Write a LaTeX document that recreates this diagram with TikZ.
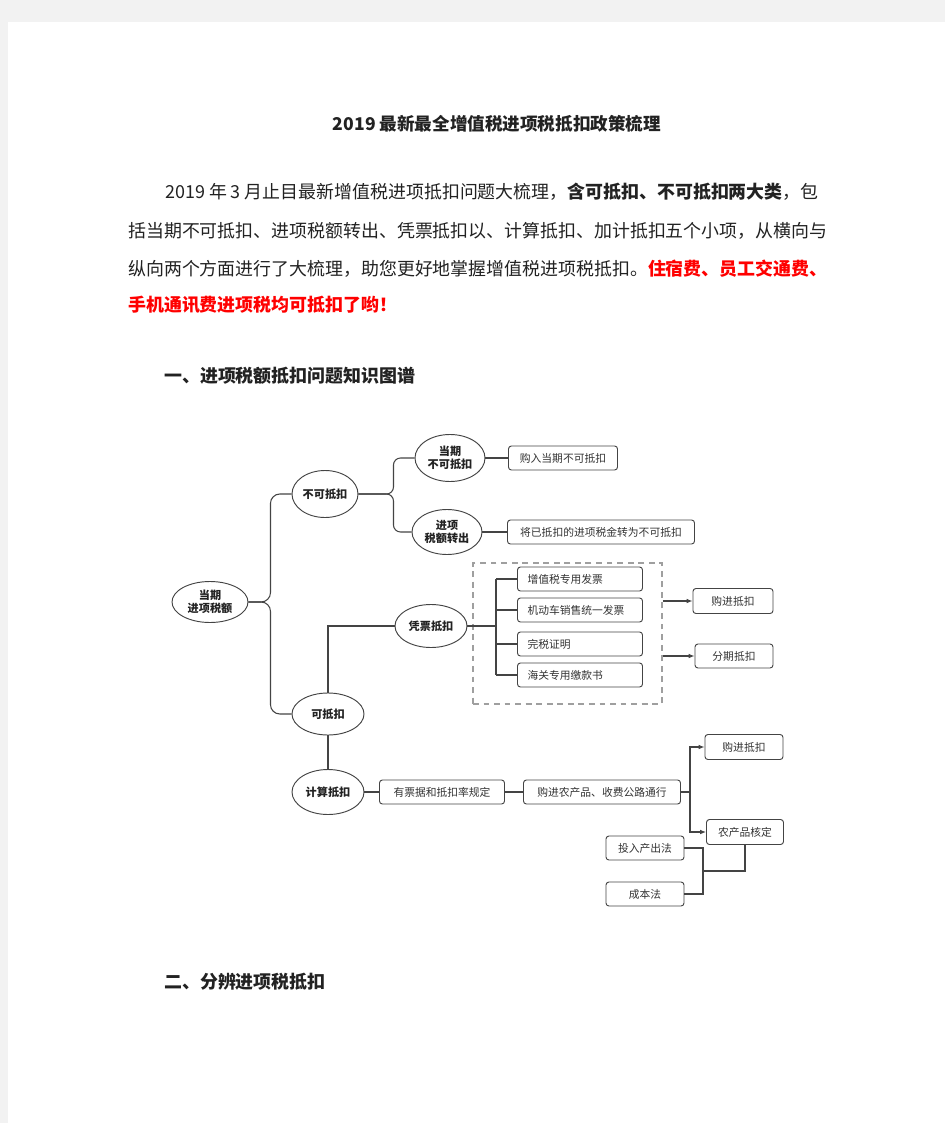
\documentclass[tikz,border=0pt]{standalone}
\usepackage{fontspec}
\setmainfont{Noto Sans CJK SC}
\usetikzlibrary{shapes.geometric,arrows.meta}
\definecolor{pagegray}{HTML}{F2F2F2}
\definecolor{ink}{HTML}{222222}
\definecolor{wire}{HTML}{444444}
\definecolor{hotred}{HTML}{FF0000}
\tikzset{
  bubble/.style={ellipse, draw=wire, line width=0.8pt, inner sep=0pt, align=center,
    font=\fontsize{9.5pt}{11pt}\selectfont\bfseries, text=ink},
  tag/.style={draw=wire, line width=0.8pt, rounded corners=2.5pt, inner sep=0pt,
    minimum height=0.72cm, font=\fontsize{9.2pt}{11pt}\selectfont, text=black!80},
  link/.style={draw=wire, line width=0.9pt},
  feed/.style={link, -{Latex[length=5pt,width=4pt]}},
  body/.style={anchor=west, inner sep=0pt, text=ink, font=\fontsize{15.3pt}{18pt}\selectfont},
  frame/.style={draw=gray!75, line width=1.4pt, dash pattern=on 5pt off 4pt}
}
\begin{document}
\begin{tikzpicture}[x=0.03cm, y=-0.03cm]
  \useasboundingbox (0,0) rectangle (945,1123);
  \fill [pagegray] (0,0) rectangle (945,1123);
  \fill [white] (8,22) rectangle (945,1123);

  \node [body, anchor=center, font=\fontsize{15pt}{18pt}\selectfont\bfseries] (title) at (497,124)
    {2019 最新最全增值税进项税抵扣政策梳理};
  \node [body] (line1) at (165,192)
    {2019 年 3 月止目最新增值税进项抵扣问题大梳理，{\bfseries 含可抵扣、不可抵扣两大类}，包};
  \node [body] (line2) at (128,231)
    {括当期不可抵扣、进项税额转出、凭票抵扣以、计算抵扣、加计抵扣五个小项，从横向与};
  \node [body] (line3) at (128,269)
    {纵向两个方面进行了大梳理，助您更好地掌握增值税进项税抵扣。{\bfseries\color{hotred}住宿费、员工交通费、}};
  \node [body, text=hotred, font=\fontsize{15.3pt}{18pt}\selectfont\bfseries] (line4) at (128,305)
    {手机通讯费进项税均可抵扣了哟！};
  \node [body, font=\fontsize{15.3pt}{18pt}\selectfont\bfseries] (head1) at (164,376)
    {一、进项税额抵扣问题知识图谱};
  \node [body, font=\fontsize{15.3pt}{18pt}\selectfont\bfseries] (head2) at (164,982)
    {二、分辨进项税抵扣};

  \node [bubble, minimum width=2.28cm, minimum height=1.23cm] (root) at (210,602) {当期\\进项税额};
  \node [bubble, minimum width=1.98cm, minimum height=1.41cm] (nk) at (325,494) {不可抵扣};
  \node [bubble, minimum width=2.1cm, minimum height=1.41cm] (dq) at (450,458) {当期\\不可抵扣};
  \node [bubble, minimum width=2.1cm, minimum height=1.35cm] (zc) at (447,532) {进项\\税额转出};
  \node [bubble, minimum width=2.16cm, minimum height=1.29cm] (pp) at (431,626) {凭票抵扣};
  \node [bubble, minimum width=2.16cm, minimum height=1.26cm] (kd) at (328,714) {可抵扣};
  \node [bubble, minimum width=2.16cm, minimum height=1.35cm] (js) at (328,792) {计算抵扣};

  \node [tag, minimum width=3.27cm] (b1) at (563,458) {购入当期不可抵扣};
  \node [tag, minimum width=5.61cm] (b2) at (601,532) {将已抵扣的进项税金转为不可抵扣};

  \node [frame, minimum width=5.67cm, minimum height=4.23cm] (box) at (567.5,633.5) {};
  \node [tag, minimum width=3.75cm, text width=3.15cm] (v1) at (580,579) {增值税专用发票};
  \node [tag, minimum width=3.75cm, text width=3.15cm] (v2) at (580,610) {机动车销售统一发票};
  \node [tag, minimum width=3.75cm, text width=3.15cm] (v3) at (580,644) {完税证明};
  \node [tag, minimum width=3.75cm, text width=3.15cm] (v4) at (580,675) {海关专用缴款书};
  \coordinate (spine) at (496,626);

  \node [tag, minimum width=2.4cm, minimum height=0.75cm] (g1) at (733,601) {购进抵扣};
  \node [tag, minimum width=2.34cm] (f1) at (734,656) {分期抵扣};

  \node [tag, minimum width=3.75cm] (r1) at (442,792) {有票据和抵扣率规定};
  \node [tag, minimum width=4.71cm] (r2) at (602,792) {购进农产品、收费公路通行};
  \coordinate (fork) at (690,792);
  \node [tag, minimum width=2.34cm, minimum height=0.75cm] (g2) at (744,747) {购进抵扣};
  \node [tag, minimum width=2.31cm, minimum height=0.75cm] (nh) at (745,832) {农产品核定};
  \node [tag, minimum width=2.34cm] (tr) at (645,848) {投入产出法};
  \node [tag, minimum width=2.34cm] (cb) at (645,894) {成本法};
  \coordinate (join) at (703,871);

  \draw [link, rounded corners=8pt] (root.east) -- ++(22,0) |- (nk.west);
  \draw [link, rounded corners=8pt] (root.east) -- ++(22,0) |- (kd.west);
  \draw [link, rounded corners=6pt] (nk.east) -- ++(35,0) |- (dq.west);
  \draw [link, rounded corners=6pt] (nk.east) -- ++(35,0) |- (zc.west);
  \draw [link] (dq.east) -- (b1.west);
  \draw [link] (zc.east) -- (b2.west);

  \draw [link] (kd.north) |- (pp.west);
  \draw [link] (pp.east) -- (spine);
  \draw [link] (v1.west -| spine) -- (v4.west -| spine);
  \foreach \v in {v1,v2,v3,v4}
    \draw [link] (\v.west -| spine) -- (\v.west);
  \draw [feed] (box.east |- g1.west) -- (g1.west);
  \draw [feed] (box.east |- f1.west) -- (f1.west);

  \draw [link] (kd.south) -- (js.north);
  \draw [link] (js.east) -- (r1.west);
  \draw [link] (r1.east) -- (r2.west);
  \draw [link] (r2.east) -- (fork);
  \draw [feed] (fork) |- (g2.west);
  \draw [feed] (fork) |- (nh.west);
  \draw [link] (tr.east) -| (join) |- (cb.east);
  \draw [link] (join) -| (nh.south);
\end{tikzpicture}
\end{document}
